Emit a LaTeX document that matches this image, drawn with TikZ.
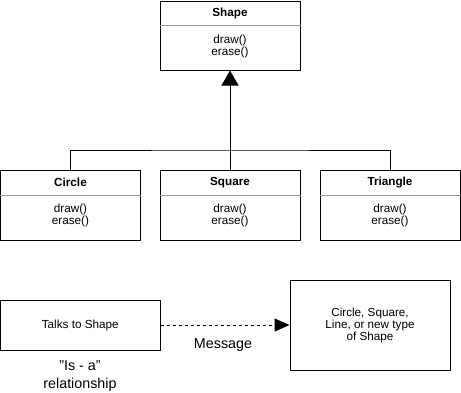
\documentclass[tikz,border=0pt]{standalone}
\usepackage{fontspec}
\setmainfont{Liberation Sans}
\usetikzlibrary{arrows.meta}

\tikzset{
  classbox/.style={draw, line width=1pt, minimum width=140pt, minimum height=69pt, inner sep=0pt},
  plainbox/.style={draw, line width=1pt, inner sep=0pt, align=center, font=\fontsize{11.7}{12}\selectfont},
  title/.style={font=\fontsize{11.7}{12}\selectfont\bfseries},
  methods/.style={align=center, font=\fontsize{11.7}{12}\selectfont},
  divider/.style={draw=black!40, line width=1pt},
  biglabel/.style={align=center, font=\fontsize{14.3}{18.5}\selectfont}
}

\begin{document}
\begin{tikzpicture}[x=1pt,y=-1pt]
\useasboundingbox (0,0) rectangle (461,392);
  % superclass
  \node[classbox] (shapebox) at (230,35.5) {};
  \node[title] (shapetitle) at (230,13.5) {Shape};
  \draw[divider] (shapebox.west |- 0,25) -- (shapebox.east |- 0,25);
  \node[methods] (shapeops) at (230,46.5) {draw()\\erase()};
  % subclasses
  \foreach \nm/\cx/\lbl in {circlebox/70.5/Circle, squarebox/230/Square, trianglebox/390/Triangle}{
    \node[classbox, minimum height=70pt] (\nm) at (\cx,205) {};
    \node[title] at (\cx,182.5) {\lbl};
    \draw[divider] (\nm.west |- 0,195) -- (\nm.east |- 0,195);
    \node[methods] at (\cx,215) {draw()\\erase()};
  }
  \coordinate (join) at (230,150);
  \draw[line width=1pt] (circlebox.north) |- (join) -| (trianglebox.north);
  \draw[line width=1pt] (squarebox.north) -- (join);
  \draw[line width=1pt, -{Triangle[length=15pt,width=17pt]}] (join) -- (shapebox.south);
  % client
  \node[plainbox, minimum width=159.5pt, minimum height=50pt] (client) at (80.25,325) {Talks to Shape};
  \node[plainbox, minimum width=160pt, minimum height=90pt] (impl) at (370,325) {Circle, Square,\\Line, or new type\\of Shape};
  \draw[line width=1pt, dash pattern=on 3pt off 3pt, -{Triangle[length=15pt,width=13pt]}] (client) -- (impl);
  \node[biglabel] (msg) at (223,345) {Message};
  \node[biglabel] (isa) at (80,376) {"Is - a"\\relationship};
\end{tikzpicture}
\end{document}
